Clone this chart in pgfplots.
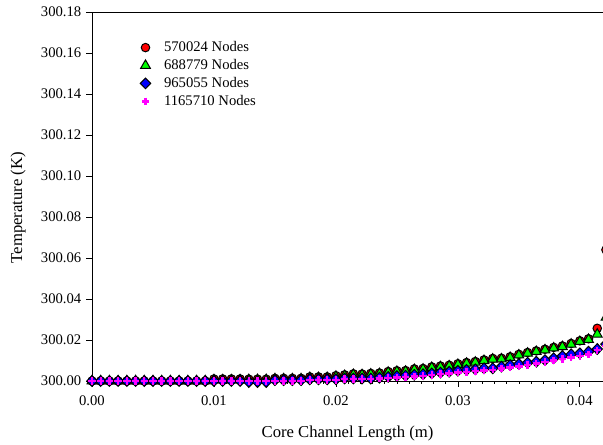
\documentclass[border=0pt]{standalone}
\usepackage{pgfplots}
\pgfplotsset{compat=1.18}
\usepackage{pgfplotstable}
\usepackage{fontspec}
\setmainfont{Liberation Serif}
\definecolor{mred}{RGB}{255,0,0}
\definecolor{mgreen}{RGB}{0,255,0}
\definecolor{mblue}{RGB}{0,0,255}
\definecolor{mmag}{RGB}{255,0,255}
\pgfplotstableread{
x r g b m
0 300.0000 300.0000 300.0000 300.0000
0.000714 300.0000 300.0000 300.0000 300.0000
0.001429 300.0000 300.0000 300.0000 300.0000
0.002143 300.0000 300.0000 300.0000 300.0000
0.002857 300.0000 300.0000 300.0000 300.0000
0.003571 300.0000 300.0000 300.0000 300.0000
0.004286 300.0000 300.0000 300.0000 300.0000
0.005 300.0000 300.0000 300.0000 300.0000
0.005714 300.0000 300.0000 300.0000 300.0000
0.006429 300.0000 300.0000 300.0000 300.0000
0.007143 300.0000 300.0000 300.0000 300.0000
0.007857 300.0000 300.0000 300.0000 300.0000
0.008571 300.0000 300.0000 300.0000 300.0000
0.009286 300.0000 300.0000 300.0000 300.0000
0.01 300.0010 300.0005 300.0000 300.0000
0.010714 300.0010 300.0005 300.0000 300.0000
0.011429 300.0010 300.0005 300.0000 300.0000
0.012143 300.0010 300.0005 300.0000 300.0000
0.012857 300.0009 300.0006 299.9995 300.0000
0.013571 300.0009 300.0006 299.9995 300.0000
0.014286 300.0009 300.0006 299.9995 300.0000
0.015 300.0013 300.0010 300.0004 300.0000
0.015714 300.0013 300.0010 300.0004 300.0000
0.016429 300.0013 300.0010 300.0004 300.0000
0.017143 300.0013 300.0010 300.0004 300.0000
0.017857 300.0020 300.0016 300.0008 300.0006
0.018571 300.0020 300.0016 300.0008 300.0006
0.019286 300.0020 300.0016 300.0008 300.0006
0.02 300.0026 300.0022 300.0008 300.0006
0.020714 300.0030 300.0026 300.0012 300.0009
0.021429 300.0035 300.0031 300.0012 300.0009
0.022143 300.0034 300.0030 300.0012 300.0009
0.022857 300.0037 300.0033 300.0012 300.0009
0.023571 300.0039 300.0035 300.0016 300.0012
0.024286 300.0046 300.0042 300.0020 300.0015
0.025 300.0050 300.0046 300.0024 300.0017
0.025714 300.0051 300.0047 300.0026 300.0019
0.026429 300.0059 300.0055 300.0030 300.0022
0.027143 300.0061 300.0057 300.0033 300.0025
0.027857 300.0069 300.0065 300.0037 300.0029
0.028571 300.0073 300.0069 300.0041 300.0033
0.029286 300.0077 300.0073 300.0045 300.0037
0.03 300.0084 300.0080 300.0050 300.0041
0.030714 300.0090 300.0086 300.0054 300.0045
0.031429 300.0095 300.0091 300.0057 300.0048
0.032143 300.0103 300.0099 300.0062 300.0052
0.032857 300.0110 300.0106 300.0062 300.0055
0.033571 300.0111 300.0107 300.0070 300.0060
0.034286 300.0118 300.0114 300.0078 300.0066
0.035 300.0130 300.0126 300.0083 300.0071
0.035714 300.0139 300.0135 300.0089 300.0078
0.036429 300.0147 300.0143 300.0094 300.0085
0.037143 300.0155 300.0151 300.0102 300.0092
0.037857 300.0164 300.0160 300.0111 300.0100
0.038571 300.0171 300.0167 300.0122 300.0108
0.039286 300.0183 300.0179 300.0130 300.0115
0.04 300.0196 300.0192 300.0135 300.0122
0.040714 300.0206 300.0202 300.0143 300.0130
0.041429 300.0257 300.0228 300.0156 300.0150
0.042143 300.0640 300.0310 300.0180 300.0170
}\datatable
\begin{document}
\begin{tikzpicture}
\begin{axis}[
  scale only axis,
  width=383.25pt, height=276.75pt,
  xmin=0, xmax=0.0419,
  ymin=300, ymax=300.18,
  clip=false,
  axis line style={draw=none},
  tick align=outside,
  xtick pos=left, ytick pos=left,
  xtick={0,0.01,0.02,0.03,0.04},
  minor x tick num=9,
  ytick={300,300.02,300.04,300.06,300.08,300.1,300.12,300.14,300.16,300.18},
  major tick length=4.5pt,
  minor tick length=2pt,
  tick style={black, line width=0.5pt},
  scaled x ticks=false, scaled y ticks=false,
  /pgf/number format/assume math mode=true,
  xticklabel={\pgfmathprintnumber[fixed,fixed zerofill,precision=2,assume math mode=true]{\tick}},
  yticklabel={\pgfmathprintnumber[fixed,fixed zerofill,precision=2,assume math mode=true]{\tick}},
  ticklabel style={font=\rmfamily\fontsize{11}{13}\selectfont},
  xticklabel style={yshift=-3pt},
  xlabel={Core Channel Length (m)},
  ylabel={Temperature (K)},
  every axis x label/.style={at={(axis description cs:0.5,0)}, anchor=center, yshift=-39.5pt, font=\fontsize{12.5}{14}\selectfont},
  every axis y label/.style={at={(axis description cs:-0.1448,0.47)}, anchor=center, rotate=90, font=\fontsize{12.5}{14}\selectfont},
  legend style={draw=none, fill=none, at={(axis description cs:0.094,0.928)}, anchor=north west,
    font=\fontsize{11}{13}\selectfont, row sep=0.3pt, column sep=8pt, inner sep=0pt, cells={anchor=west}},
]
\draw[black, line width=0.6pt] (rel axis cs:1.05,0) -- (rel axis cs:0,0) -- (rel axis cs:0,1) -- (rel axis cs:1.05,1);
\addplot[only marks, mark=*, mark size=3.2pt, mark options={fill=mred, draw=black, line width=0.75pt}] table[x=x,y=r] {\datatable};
\addlegendentry{570024 Nodes}
\addplot[only marks, mark=triangle*, mark size=4.2pt, mark options={fill=mgreen, draw=black, line width=0.75pt}] table[x=x,y=g] {\datatable};
\addlegendentry{688779 Nodes}
\addplot[only marks, mark=diamond*, mark size=4pt, mark options={fill=mblue, draw=black, line width=0.75pt, xscale=1.3}] table[x=x,y=b] {\datatable};
\addlegendentry{965055 Nodes}
\addplot[only marks, mark=+, mark size=2.8pt, mark options={draw=mmag, line width=1.8pt}] table[x=x,y=m] {\datatable};
\addlegendentry{1165710 Nodes}
\end{axis}
\begin{axis}[
  scale only axis,
  width=383.25pt, height=276.75pt,
  xmin=0, xmax=0.0419,
  ymin=300, ymax=300.18,
  axis line style={draw=none},
  tick align=inside,
  xtick=\empty, ytick=\empty,
  xtick pos=right, ytick pos=left,
  minor xtick={0.001,0.002,...,0.042},
  minor ytick={300.002,300.004,...,300.179},
  minor tick length=2.2pt,
  tick style={black, line width=0.5pt},
]
\end{axis}
\pgfresetboundingbox
\useasboundingbox ([xshift=-69pt,yshift=-48pt]current axis.south west) rectangle ([yshift=9pt]current axis.north east);
\end{tikzpicture}
\end{document}
